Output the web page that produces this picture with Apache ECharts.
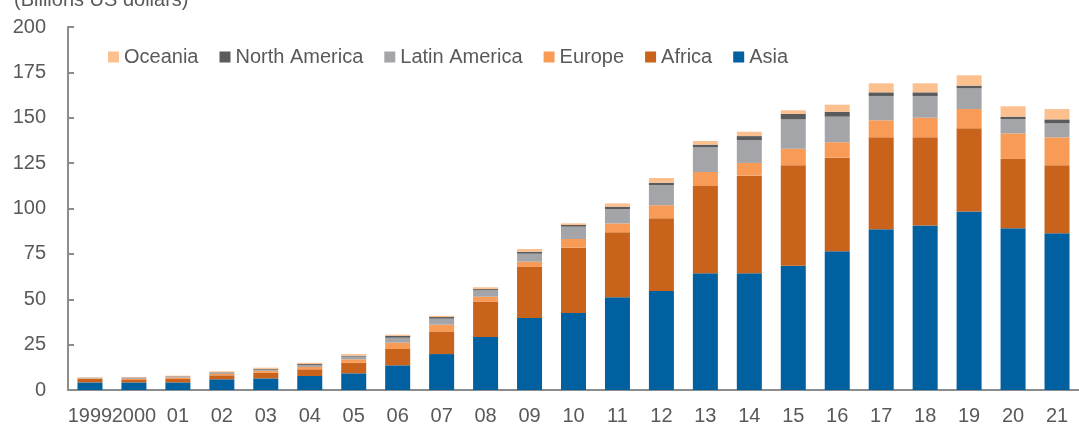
<!DOCTYPE html>
<html>
<head>
<meta charset="utf-8">
<script src="https://cdn.jsdelivr.net/npm/echarts@6/dist/echarts.min.js"></script>
<style>
  html, body { margin: 0; padding: 0; background: #fff; }
  #chart { width: 1079px; height: 428px; }
</style>
</head>
<body>
<div id="chart"></div>
<script>
const years = ['1999', '2000', '01', '02', '03', '04', '05', '06', '07', '08', '09', '10',
  '11', '12', '13', '14', '15', '16', '17', '18', '19', '20', '21'];
const asia = [4.2, 4.2, 4.2, 5.9, 6.4, 7.7, 9.2, 13.6, 19.8, 29.2, 39.7, 42.4,
  51.1, 54.5, 64.3, 64.3, 68.5, 76.4, 88.5, 90.7, 98.4, 89.1, 86.3];
const africa = [1.9, 1.3, 1.9, 2.2, 3.1, 3.7, 5.8, 9.0, 12.5, 19.5, 28.1, 36.0,
  35.8, 40.1, 48.1, 53.8, 55.3, 51.6, 50.7, 48.5, 45.8, 38.2, 37.5];
const europe = [0.3, 0.6, 0.7, 0.7, 1.1, 1.3, 1.9, 3.5, 3.7, 2.7, 2.9, 4.8,
  4.9, 7.2, 7.7, 7.0, 9.1, 8.5, 9.4, 10.8, 10.6, 14.1, 15.4];
const latinAmerica = [0.3, 0.6, 0.4, 0.6, 0.6, 1.1, 1.5, 2.7, 3.3, 3.5, 4.4, 6.8,
  7.9, 11.1, 13.6, 12.6, 16.2, 14.1, 13.4, 12.0, 11.4, 7.9, 7.7];
const northAmerica = [0.1, 0.2, 0.3, 0.3, 0.4, 0.5, 0.5, 1.1, 0.9, 0.7, 1.1, 0.9,
  1.3, 1.3, 1.5, 2.2, 3.0, 2.7, 2.0, 2.0, 1.5, 1.3, 2.2];
const oceania = [0.2, 0.3, 0.4, 0.6, 0.7, 0.7, 0.9, 0.6, 0.7, 1.0, 1.5, 0.9,
  1.8, 2.6, 2.0, 2.4, 2.0, 3.9, 5.0, 5.0, 5.7, 5.7, 5.7];

// no narrow font installed, so a slightly smaller regular sans keeps the widths
const font = "'Liberation Sans', Arial, sans-serif";
const fontSize = 20;
const textColor = '#595959';

const chart = echarts.init(document.getElementById('chart'));

const seriesDefs = [
  { name: 'Asia', data: asia, color: '#0060a0' },
  { name: 'Africa', data: africa, color: '#c9631b' },
  { name: 'Europe', data: europe, color: '#f89b57' },
  { name: 'Latin America', data: latinAmerica, color: '#a4a5a9' },
  { name: 'North America', data: northAmerica, color: '#5a5b5d' },
  { name: 'Oceania', data: oceania, color: '#fcc08f' }
];

const series = seriesDefs.map(s => {
  return {
    name: s.name,
    type: 'bar',
    stack: 'total',
    barWidth: 25,
    itemStyle: { color: s.color },
    data: s.data
  };
});

const option = {
  animation: false,
  title: {
    text: '(Billions US dollars)',
    left: 9,
    top: -15,
    textStyle: { fontFamily: font, fontSize: fontSize, fontWeight: 'normal', color: textColor }
  },
  legend: {
    data: ['Oceania', 'North America', 'Latin America', 'Europe', 'Africa', 'Asia'],
    left: 103,
    top: 42,
    itemWidth: 11,
    itemHeight: 11,
    itemGap: 21,
    icon: 'rect',
    textStyle: { fontFamily: font, fontSize: fontSize, color: textColor }
  },
  grid: {
    left: 68,
    top: 27,
    width: 1023.5,
    height: 363
  },
  xAxis: {
    type: 'category',
    data: years,
    axisLine: { lineStyle: { color: '#8c8c8c', width: 2 } },
    axisTick: { show: false },
    axisLabel: { fontFamily: font, fontSize: fontSize, color: textColor, margin: 16, interval: 0 }
  },
  yAxis: {
    type: 'value',
    min: 0,
    max: 200,
    interval: 25,
    splitLine: { show: false },
    axisLine: { show: true, lineStyle: { color: '#8c8c8c', width: 2 } },
    axisTick: { show: true, inside: true, length: 6, lineStyle: { color: '#8c8c8c', width: 2 } },
    axisLabel: { fontFamily: font, fontSize: fontSize, color: textColor, margin: 22 }
  },
  series
};

chart.setOption(option);
</script>
</body>
</html>
